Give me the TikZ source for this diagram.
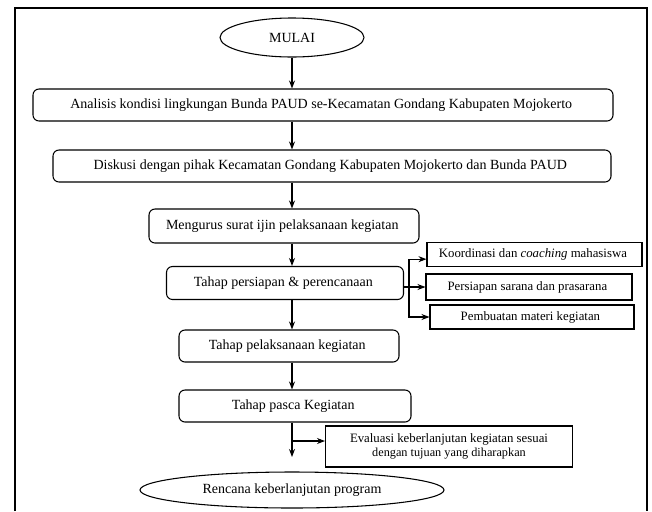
\documentclass[tikz,border=0pt]{standalone}
\usepackage{fontspec}
\setmainfont{Liberation Serif}
\usetikzlibrary{arrows.meta,shapes.geometric}

\begin{document}
\begin{tikzpicture}[
    x=0.75pt, y=-0.75pt,
    tahap/.style={rectangle, draw, line width=0.8pt, rounded corners=4.5pt, inner sep=0pt, align=center, font=\fontsize{10.5}{12}\selectfont},
    rincian/.style={rectangle, draw, line width=0.8pt, inner sep=0pt, align=center, font=\fontsize{9.6}{11}\selectfont},
    terminal/.style={ellipse, draw, line width=0.8pt, inner sep=0pt, font=\fontsize{10.5}{12}\selectfont},
    arrow/.style={-{Stealth[length=6pt,width=4.5pt]}, line width=0.8pt}
]
\useasboundingbox (0,0) rectangle (652,511);

% bingkai luar
\draw[line width=0.8pt] (15,511) -- (15,8) -- (647,8) -- (647,511);

\node[terminal, minimum width=108pt, minimum height=29.25pt] (mulai) at (292,37.5) {MULAI};

\node[tahap, minimum width=435pt, minimum height=24pt] (analisis) at (323,105) {
    Analisis kondisi lingkungan Bunda PAUD se-Kecamatan Gondang Kabupaten Mojokerto
};

\node[tahap, minimum width=418.5pt, minimum height=24pt] (diskusi) at (332,166) {
    Diskusi dengan pihak Kecamatan Gondang Kabupaten Mojokerto dan Bunda PAUD
};

\node[tahap, minimum width=202.5pt, minimum height=25.5pt] (surat) at (284,226) {
    Mengurus surat ijin pelaksanaan kegiatan
};

\node[tahap, minimum width=177.75pt, minimum height=24.75pt] (persiapan) at (285,283) {
    Tahap persiapan \& perencanaan
};

\node[tahap, minimum width=165pt, minimum height=24pt] (pelaksanaan) at (289,346) {
    Tahap pelaksanaan kegiatan
};

\node[tahap, minimum width=174pt, minimum height=24pt] (pasca) at (295,406) {
    Tahap pasca Kegiatan
};

\node[rincian, minimum width=161.25pt, minimum height=18pt] (koordinasi) at (534.5,254.5) {
    Koordinasi dan \textit{coaching} mahasiswa
};

\node[rincian, minimum width=154.5pt, minimum height=19.5pt] (sarana) at (529,287) {
    Persiapan sarana dan prasarana
};

\node[rincian, minimum width=153pt, minimum height=18pt] (materi) at (532,317) {
    Pembuatan materi kegiatan
};

\node[rincian, minimum width=185.25pt, minimum height=30.75pt] (evaluasi) at (449,446.5) {
    Evaluasi keberlanjutan kegiatan sesuai\\
    {\fontsize{9.2}{11}\selectfont dengan tujuan yang diharapkan}
};

\node[terminal, minimum width=228pt, minimum height=27pt] (rencana) at (292,490) {
    Rencana keberlanjutan program
};

\coordinate (cabang) at (409,287);
\coordinate (simpang) at (292,441);
\coordinate (ujung) at (292,457);

\draw[arrow] (mulai) -- (analisis.north -| mulai);
\draw[arrow] (analisis.south -| mulai) -- (diskusi.north -| mulai);
\draw[arrow] (diskusi.south -| mulai) -- (surat.north -| mulai);
\draw[arrow] (surat.south -| mulai) -- (persiapan.north -| mulai);
\draw[arrow] (persiapan.south -| mulai) -- (pelaksanaan.north -| mulai);
\draw[arrow] (pelaksanaan.south -| mulai) -- (pasca.north -| mulai);
\draw[arrow] (pasca.south -| mulai) -- (ujung);

\draw[arrow] (persiapan.east |- sarana) -- (sarana.west);
\draw[arrow] (cabang) |- ([yshift=-3.5pt]koordinasi.west);
\draw[arrow] (cabang) |- (materi.west);
\draw[arrow] (simpang) -- (simpang -| evaluasi.west);

\end{tikzpicture}
\end{document}
